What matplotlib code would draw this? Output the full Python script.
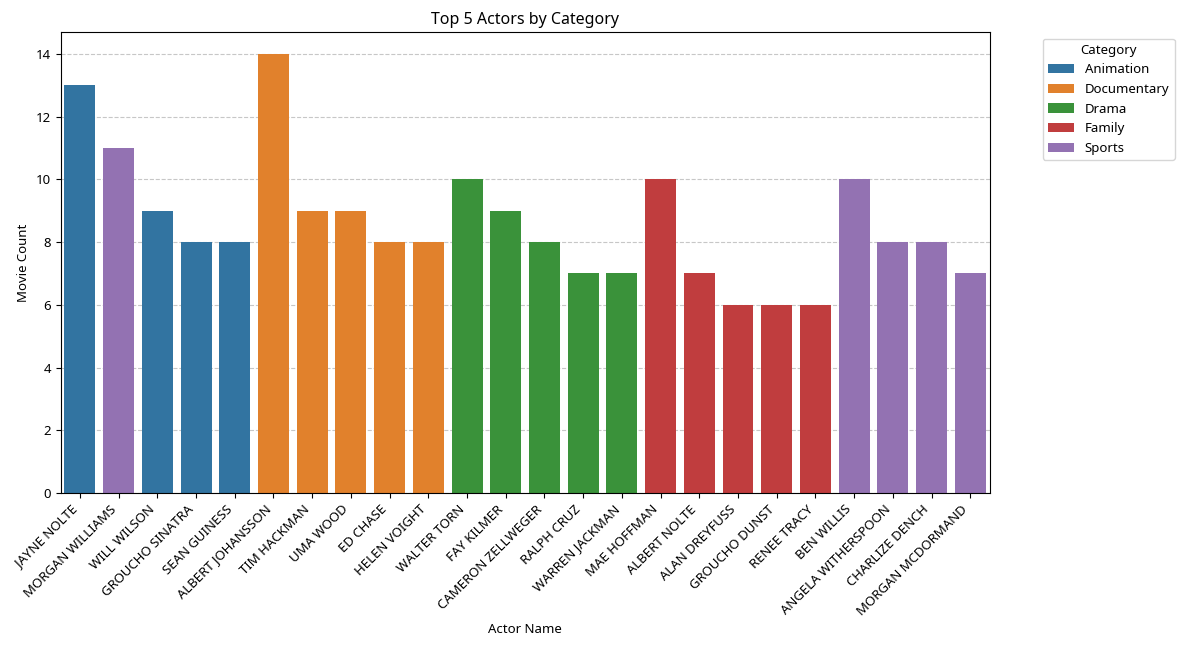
import pandas as pd
import matplotlib
matplotlib.use("Agg")
import matplotlib.pyplot as plt
import seaborn as sns

categories = ["Animation"] * 5 + ["Documentary"] * 5 + ["Drama"] * 5 + ["Family"] * 5 + ["Sports"] * 5
actors = [
    "JAYNE NOLTE", "MORGAN WILLIAMS", "WILL WILSON", "GROUCHO SINATRA", "SEAN GUINESS",
    "ALBERT JOHANSSON", "TIM HACKMAN", "UMA WOOD", "ED CHASE", "HELEN VOIGHT",
    "WALTER TORN", "FAY KILMER", "CAMERON ZELLWEGER", "RALPH CRUZ", "WARREN JACKMAN",
    "MAE HOFFMAN", "ALBERT NOLTE", "ALAN DREYFUSS", "GROUCHO DUNST", "RENEE TRACY",
    "MORGAN WILLIAMS", "BEN WILLIS", "ANGELA WITHERSPOON", "CHARLIZE DENCH", "MORGAN MCDORMAND",
]
movie_counts = [
    13, 10, 9, 8, 8,
    14, 9, 9, 8, 8,
    10, 9, 8, 7, 7,
    10, 7, 6, 6, 6,
    11, 10, 8, 8, 7,
]

df = pd.DataFrame({"Category": categories, "Actor Name": actors, "Movie Count": movie_counts})

plt.rcParams["font.family"] = ["Noto Sans", "DejaVu Sans"]
plt.rcParams["font.size"] = 9.5

fig = plt.figure(figsize=(11.88, 6.53), dpi=100)
ax = sns.barplot(data=df, x="Actor Name", y="Movie Count", hue="Category", dodge=False)

plt.title("Top 5 Actors by Category", fontsize=11.5)
plt.xlabel("Actor Name")
plt.ylabel("Movie Count")
plt.xticks(rotation=45, ha="right")
plt.grid(axis="y", linestyle="--", alpha=0.7)
ax.set_axisbelow(True)
ax.set_xlim(-0.5, len(df["Actor Name"].unique()) - 0.5)
plt.legend(title="Category", bbox_to_anchor=(1.05, 1), loc="upper left")
fig.subplots_adjust(left=0.051, right=0.833, top=0.951, bottom=0.245)
plt.savefig("out.png", dpi=100)
